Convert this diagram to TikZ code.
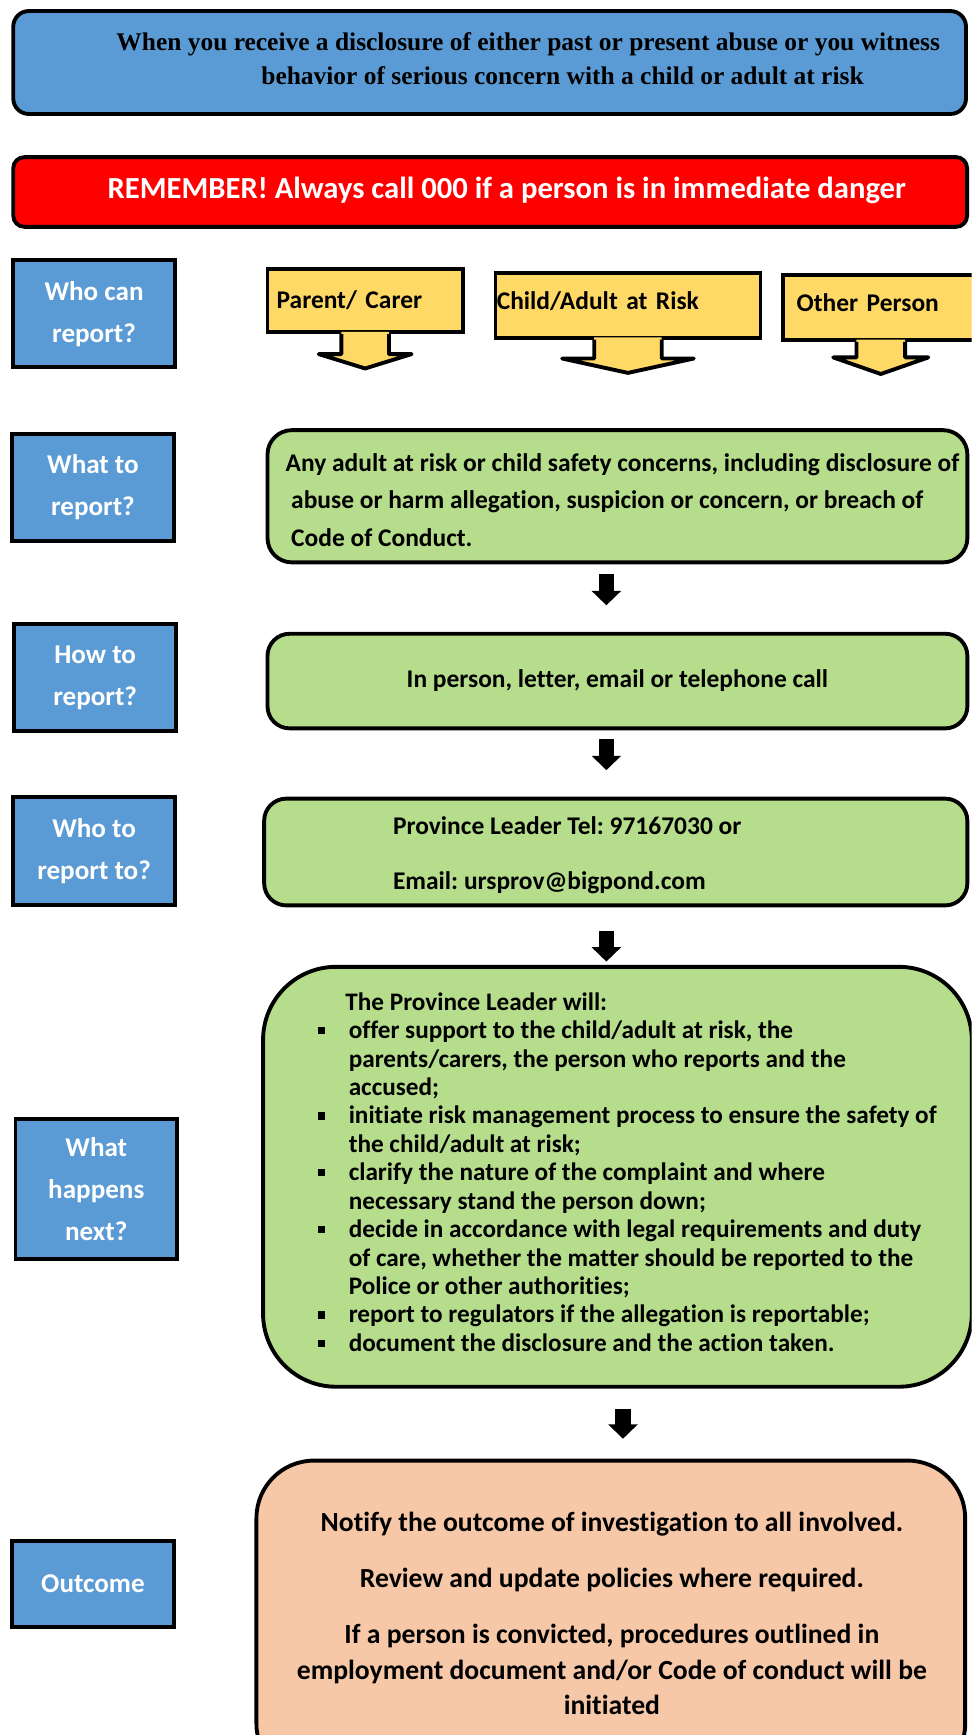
\documentclass[tikz,border=0pt]{standalone}
\usepackage{fontspec}
\setmainfont{Carlito}[Ligatures=NoCommon]
\newfontfamily\timesfont{Liberation Serif}
\usetikzlibrary{positioning,calc,arrows.meta}
\definecolor{boxblue}{HTML}{5B9BD5}
\definecolor{leafgreen}{HTML}{B6DD8B}
\definecolor{peach}{HTML}{F6C8A8}
\definecolor{sunyellow}{HTML}{FFD966}
\newcommand{\sqbullet}{\raisebox{4pt}{\rule{6.5pt}{6.5pt}}}
\frenchspacing

\tikzset{
  side box/.style={draw=black, line width=3.5pt, fill=boxblue, minimum width=146pt, minimum height=97pt,
    inner sep=0pt, text=white, align=center, font=\fontsize{24.5}{38}\selectfont\bfseries},
  round box/.style={draw=black, line width=3.5pt, inner sep=0pt},
  who box/.style={draw=black, line width=3.5pt, fill=sunyellow, inner sep=0pt, align=left,
    font=\fontsize{23}{26}\selectfont\bfseries},
  tail line/.style={black, line width=3.5pt, line join=round},
  down arrow/.style={black, line width=14pt, -{Triangle[width=26pt,length=13pt]}},
  body text/.style={inner sep=0pt, font=\fontsize{23}{34}\selectfont\bfseries}
}

\begin{document}
\begin{tikzpicture}[x=1pt,y=-1pt]
\useasboundingbox (0,0) rectangle (878,1568);
\clip (0,0) rectangle (878,1568);

% heading boxes
\node[round box, fill=boxblue, minimum width=861pt, minimum height=93pt, rounded corners=14pt] (intro) at (442.5,56.5) {};
\node[anchor=west, align=left, inner sep=0pt, font=\timesfont\bfseries\fontsize{23}{31}\selectfont] (introtext) at (105,53)
  {When you receive a disclosure of either past or present abuse or you witness\\
   \hspace*{131pt}behavior of serious concern with a child or adult at risk};

\node[round box, fill=red, minimum width=862pt, minimum height=63pt, rounded corners=10pt] (remember) at (443,173.5) {};
\node[inner sep=0pt, text=white, font=\fontsize{27.7}{30}\selectfont\bfseries] (remembertext) at (458,172)
  {REMEMBER! Always call 000 if a person is in immediate danger};

% question boxes on the left
\node[side box] (canreport) at (85,283.5) {Who can\\report?};
\node[side box] (whatreport) at (84,440.5) {What to\\report?};
\node[side box] (howreport) at (86,612.5) {How to\\report?};
\node[side box] (whoreport) at (85,769) {Who to\\report to?};
\node[side box, minimum height=127pt] (nextstep) at (87,1074.5) {What\\happens\\next?};
\node[side box, minimum height=77pt] (outcome) at (84,1431.5) {Outcome};

% who can report
\node[who box, minimum width=176.5pt, minimum height=57.5pt, text width=160pt] (parent) at (330,271.5) {Parent/ Carer};
\node[who box, minimum width=239.5pt, minimum height=58.5pt, text width=237pt, text depth=9pt] (child) at (567.5,276) {Child/Adult at Risk};
\node[who box, minimum width=176.5pt, minimum height=58.5pt, text width=152pt, text depth=9pt] (other) at (796,278) {Other Person};

\begin{scope}[shift={(parent.south)}]
  \fill[sunyellow] (-21.5,-2) -- (-21.5,18) -- (-42,18) -- (0,31) -- (42,18) -- (21.5,18) -- (21.5,-2) -- cycle;
  \draw[tail line] (-21.5,0) -- (-21.5,18) -- (-42,18) -- (0,31) -- (42,18) -- (21.5,18) -- (21.5,0);
\end{scope}
\begin{scope}[shift={(child.south)}]
  \fill[sunyellow] (-30.5,-2) -- (-30.5,17) -- (-59.5,17) -- (0,30) -- (59.5,17) -- (30.5,17) -- (30.5,-2) -- cycle;
  \draw[tail line] (-30.5,0) -- (-30.5,17) -- (-59.5,17) -- (0,30) -- (59.5,17) -- (30.5,17) -- (30.5,0);
\end{scope}
\begin{scope}[shift={(other.south)}]
  \fill[sunyellow] (-22,-2) -- (-22,14) -- (-43,14) -- (0,29) -- (43,14) -- (22,14) -- (22,-2) -- cycle;
  \draw[tail line] (-22,0) -- (-22,14) -- (-43,14) -- (0,29) -- (43,14) -- (22,14) -- (22,0);
\end{scope}

% what to report
\node[round box, fill=leafgreen, minimum width=632.5pt, minimum height=119.5pt, rounded corners=22pt] (whatbox) at (558,448.5) {};
\node[body text, anchor=west, align=left] (whattext) at (258,452)
  {Any adult at risk or child safety concerns, including disclosure of\\
   \hspace*{5pt}abuse or harm allegation, suspicion or concern, or breach of\\
   \hspace*{5pt}Code of Conduct.};

% how to report
\node[round box, fill=leafgreen, minimum width=632.5pt, minimum height=85.5pt, rounded corners=20pt,
  font=\fontsize{23}{26}\selectfont\bfseries] (howbox) at (558,615.5) {In person, letter, email or telephone call};

% who to report to
\node[round box, fill=leafgreen, minimum width=635.5pt, minimum height=96.5pt, rounded corners=20pt] (whobox) at (556.5,770) {};
\node[body text, anchor=west, align=left, font=\fontsize{23}{50}\selectfont\bfseries] (whotext) at (355,773)
  {Province Leader Tel: 97167030 or\\Email: ursprov@bigpond.com};

% what happens next
\node[round box, fill=leafgreen, minimum width=640.5pt, minimum height=379.5pt, rounded corners=66pt] (nextbox) at (558,1063.5) {};
\node[inner sep=0pt, anchor=west, font=\fontsize{22.8}{25.7}\selectfont\bfseries] (nexttext) at (287,1062)
  {\begin{tabular}{@{}p{28pt}@{}l@{}}
    & \hspace*{-3pt}The Province Leader will:\\
    \sqbullet & offer support to the child/adult at risk, the\\
    & parents/carers, the person who reports and the\\
    & accused;\\
    \sqbullet & initiate risk management process to ensure the safety of\\
    & the child/adult at risk;\\
    \sqbullet & clarify the nature of the complaint and where\\
    & necessary stand the person down;\\
    \sqbullet & decide in accordance with legal requirements and duty\\
    & of care, whether the matter should be reported to the\\
    & Police or other authorities;\\
    \sqbullet & report to regulators if the allegation is reportable;\\
    \sqbullet & document the disclosure and the action taken.
  \end{tabular}};

% outcome
\node[round box, fill=peach, minimum width=640.5pt, minimum height=290pt, rounded corners=52pt] (outcomebox) at (552,1465) {};
\node[inner sep=0pt, align=center, font=\fontsize{25}{32}\selectfont\bfseries] (outcometext) at (553,1458)
  {Notify the outcome of investigation to all involved.\\[19pt]
   Review and update policies where required.\\[19pt]
   If a person is convicted, procedures outlined in\\
   employment document and/or Code of conduct will be\\
   initiated};

% arrows between the steps
\draw[down arrow, shorten <=9pt, shorten >=24pt] ([xshift=-10pt]whatbox.south) -- ([xshift=-10pt]howbox.north);
\draw[down arrow, shorten <=8pt, shorten >=24pt] ([xshift=-10pt]howbox.south) -- ([xshift=-8.5pt]whobox.north);
\draw[down arrow, shorten <=21pt, shorten >=3pt] ([xshift=-8.5pt]whobox.south) -- ([xshift=-10pt]nextbox.north);
\draw[down arrow, shorten <=18pt, shorten >=18pt] ([xshift=5pt]nextbox.south) -- ([xshift=11pt]outcomebox.north);

\end{tikzpicture}
\end{document}
